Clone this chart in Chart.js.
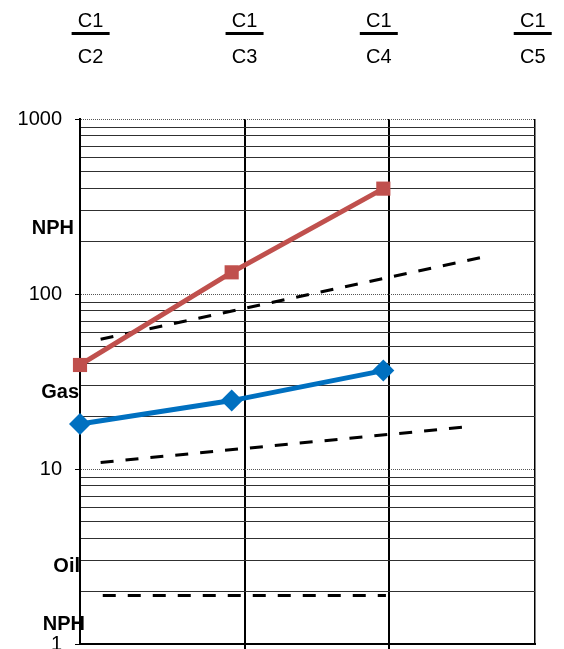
<!DOCTYPE html>
<html>
<head>
<meta charset="utf-8">
<script src="https://cdn.jsdelivr.net/npm/chart.js@4/dist/chart.umd.min.js"></script>
<style>
  html, body { margin: 0; padding: 0; background: #fff; overflow: hidden; height: 649px; }
  #wrap { width: 564px; height: 655px; }
</style>
</head>
<body>
<div id="wrap"><canvas id="chart"></canvas></div>
<script>
// column dividers and where the series points sit along x
var xTicks = [0, 1.09, 2.035, 3];
var xPoints = [0, 1, 2];

// ratio labels above the plot
var topNumer = ['C1', 'C1', 'C1', 'C1'];
var topDenom = ['C2', 'C3', 'C4', 'C5'];
var topAt = [0.07, 1.085, 1.97, 2.985];

// log axis lines and the ones that get a label
var yTicks = [1, 2, 3, 4, 5, 6, 7, 8, 9,
              10, 20, 30, 40, 50, 60, 70, 80, 90,
              100, 200, 300, 400, 500, 600, 700, 800, 900, 1000];
var yLabels = [1, 10, 100, 1000];

// series
var redValues = [39.3, 133, 400];
var blueValues = [18.1, 24.6, 36.5];

// dashed boundary lines (start / end)
var upperDashX = [0.136, 2.637];
var upperDashY = [55.1, 161];
var lowerDashX = [0.136, 2.545];
var lowerDashY = [10.9, 17.4];
var oilDashX = [0.15, 2.017];
var oilDashY = [1.89, 1.89];

// zone names on the left
var zoneNames = ['NPH', 'Gas', 'Oil', 'NPH'];
var zoneAt = [238, 27.2, 2.79, 1.30];
var zoneShift = [-6, -1, 0, 5];

var FONT = '"Liberation Sans", Arial, sans-serif';

function pts(xs, ys) {
  return xs.map(function(x, i) { return { x: x, y: ys[i] }; });
}

var annotate = {
  id: 'annotate',
  afterDraw: function(chart) {
    var ctx = chart.ctx;
    var x = chart.scales.x, y = chart.scales.y;
    ctx.save();
    ctx.fillStyle = '#000';
    ctx.textAlign = 'center';
    ctx.textBaseline = 'middle';
    ctx.font = '20px ' + FONT;
    for (var i = 0; i < topDenom.length; i++) {
      var cx = x.getPixelForValue(topAt[i]);
      ctx.fillText(topNumer[i], cx, 21);
      ctx.fillRect(cx - 19, 32, 38, 3);
      ctx.fillText(topDenom[i], cx, 57);
    }
    ctx.font = 'bold 20px ' + FONT;
    ctx.textAlign = 'right';
    for (var j = 0; j < zoneNames.length; j++) {
      ctx.fillText(zoneNames[j], chart.chartArea.left + zoneShift[j], y.getPixelForValue(zoneAt[j]));
    }
    ctx.restore();
  }
};

function isDecade(c) {
  return c.tick && yLabels.indexOf(c.tick.value) >= 0;
}
function isMidCol(c) {
  return c.tick && c.tick.value > 0 && c.tick.value < 3;
}

var Cnvs = document.getElementById('chart');
var chart = new Chart(Cnvs, {
  type: 'line',
  data: {
    datasets: [
      {
        label: 'Series 1',
        data: pts(xPoints, blueValues),
        borderColor: '#0070C0',
        backgroundColor: '#0070C0',
        borderWidth: 5,
        pointStyle: 'rectRot',
        pointRadius: 11,
        pointBorderWidth: 0,
        clip: false,
        order: 1
      },
      {
        label: 'Series 2',
        data: pts(xPoints, redValues),
        borderColor: '#C0504D',
        backgroundColor: '#C0504D',
        borderWidth: 5,
        pointStyle: 'rect',
        pointRadius: 10,
        pointBorderWidth: 0,
        clip: false,
        order: 2
      },
      {
        label: 'Upper limit',
        data: pts(upperDashX, upperDashY),
        borderColor: '#000',
        borderWidth: 3,
        borderDash: [13, 12],
        pointRadius: 0,
        order: 3
      },
      {
        label: 'Lower limit',
        data: pts(lowerDashX, lowerDashY),
        borderColor: '#000',
        borderWidth: 3,
        borderDash: [13, 12],
        pointRadius: 0,
        order: 4
      },
      {
        label: 'Oil limit',
        data: pts(oilDashX, oilDashY),
        borderColor: '#000',
        borderWidth: 3,
        borderDash: [13, 12],
        pointRadius: 0,
        order: 5
      }
    ]
  },
  options: {
    responsive: true,
    maintainAspectRatio: false,
    animation: false,
    layout: { padding: { top: 119, right: 29, bottom: 0, left: 0 } },
    plugins: {
      legend: { display: false },
      tooltip: { enabled: false }
    },
    scales: {
      x: {
        type: 'linear',
        min: 0,
        max: 3,
        afterBuildTicks: function(s) {
          s.ticks = xTicks.map(function(v) { return { value: v }; });
        },
        afterFit: function(s) {
          s.height = 5;
          s.paddingLeft = 0;
          s.paddingRight = 0;
        },
        ticks: { display: false },
        grid: {
          color: '#000',
          lineWidth: function(c) { return c.tick && c.tick.value === 3 ? 1.5 : 2; },
          tickLength: 5,
          tickWidth: 2,
          tickColor: function(c) { return isMidCol(c) ? '#000' : 'rgba(0,0,0,0)'; }
        },
        border: { color: '#000', width: 2 }
      },
      y: {
        type: 'logarithmic',
        min: 1,
        max: 1000,
        afterBuildTicks: function(s) {
          s.ticks = yTicks.map(function(v) { return { value: v }; });
        },
        afterFit: function(s) {
          s.width = 80;
          s.paddingTop = 0;
          s.paddingBottom = 0;
        },
        ticks: {
          autoSkip: false,
          padding: 13,
          color: '#000',
          font: { family: FONT, size: 20 },
          callback: function(v) { return yLabels.indexOf(v) >= 0 ? String(v) : ''; }
        },
        grid: {
          color: function(c) { return isDecade(c) ? '#555' : '#303030'; },
          lineWidth: 1,
          tickLength: 5,
          tickWidth: 1,
          tickColor: function(c) { return isDecade(c) ? '#000' : 'rgba(0,0,0,0)'; }
        },
        border: {
          color: '#000',
          width: 2,
          dash: function(c) { return isDecade(c) ? [1, 1] : []; }
        }
      }
    }
  },
  plugins: [annotate]
});
</script>
</body>
</html>
